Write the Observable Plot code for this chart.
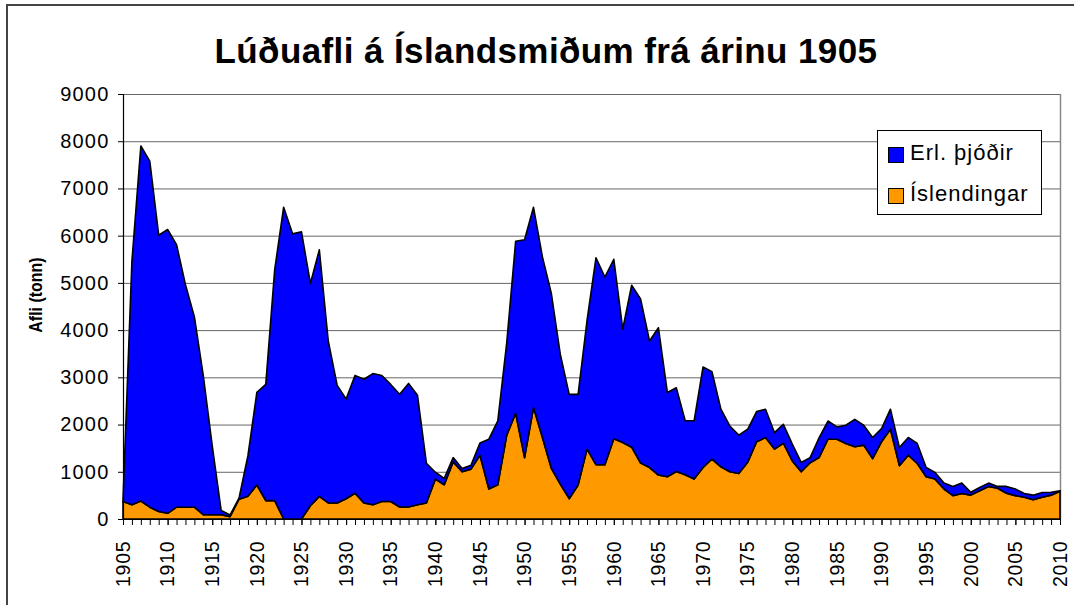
<!DOCTYPE html>
<html>
<head>
<meta charset="utf-8">
<script src="https://cdn.jsdelivr.net/npm/d3@7"></script>
<script src="https://cdn.jsdelivr.net/npm/@observablehq/plot@0.6"></script>
<style>
  body { margin: 0; background: #fff; font-family: "Liberation Sans", Arial, sans-serif; }
  #wrap { position: relative; width: 1074px; height: 605px; overflow: hidden; background: #fff; }
  #frame { position: absolute; left: 6px; top: 4px; width: 1200px; height: 800px; border: 2px solid #444; box-sizing: border-box; }
  #title { position: absolute; left: 0; top: 33px; width: 1092px; text-align: center; font-weight: bold; font-size: 35px; line-height: 35px; letter-spacing: 0.4px; color: #000; }
  #ylab { position: absolute; left: 35px; top: 295px; transform: translate(-50%, -50%) rotate(-90deg) scaleX(0.84); font-weight: bold; font-size: 19px; line-height: 19px; white-space: nowrap; color: #000; }
  #chart { position: absolute; left: 0; top: 80px; }
  #chart svg g[aria-label="y-axis tick label"] text { letter-spacing: 1.2px; }
  #chart svg g[aria-label="x-axis tick label"] text { letter-spacing: 0.8px; }
  #legend { position: absolute; left: 877px; top: 130px; width: 165px; height: 85px; border: 1px solid #000; background: #fff; box-sizing: border-box; }
  .sw { position: absolute; left: 10px; width: 14px; height: 14px; border: 1px solid #000; }
  .lt { position: absolute; left: 32px; font-size: 22px; letter-spacing: 1px; line-height: 22px; color: #000; white-space: nowrap; }
</style>
</head>
<body>
<div id="wrap">
  <div id="frame"></div>
  <div id="title">Lúðuafli á Íslandsmiðum frá árinu 1905</div>
  <div id="chart"></div>
  <div id="ylab"></div>
  <div id="legend"></div>
</div>
<script>
// ---- data ----
const years = [1905,1906,1907,1908,1909,1910,1911,1912,1913,1914,1915,1916,1917,1918,1919,1920,
1921,1922,1923,1924,1925,1926,1927,1928,1929,1930,1931,1932,1933,1934,1935,1936,1937,1938,1939,1940,
1941,1942,1943,1944,1945,1946,1947,1948,1949,1950,1951,1952,1953,1954,1955,1956,1957,1958,1959,1960,
1961,1962,1963,1964,1965,1966,1967,1968,1969,1970,1971,1972,1973,1974,1975,1976,1977,1978,1979,1980,
1981,1982,1983,1984,1985,1986,1987,1988,1989,1990,1991,1992,1993,1994,1995,1996,1997,1998,1999,2000,
2001,2002,2003,2004,2005,2006,2007,2008,2009,2010];

// Íslendingar (tonn)
const islendingar = [370,300,380,250,160,120,250,250,250,90,90,90,50,420,480,720,
390,390,0,0,0,280,480,340,340,430,545,340,300,370,370,255,255,300,340,845,
725,1210,1000,1056,1350,635,725,1775,2240,1300,2360,1725,1070,740,430,720,1480,1150,1150,1700,
1620,1520,1185,1090,930,895,1005,935,845,1090,1270,1105,1000,965,1200,1635,1725,1480,1605,1230,
1000,1190,1300,1690,1690,1600,1530,1565,1280,1635,1900,1130,1350,1175,895,845,635,495,540,505,
600,690,650,545,495,460,410,460,505,585];

// Erlendar þjóðir (tonn)
const erlendir = [30,5160,7520,7330,5850,6010,5560,4710,4030,2940,1460,90,35,20,860,1960,
2460,4890,6600,6040,6080,4710,5220,3430,2490,2110,2495,2620,2780,2670,2480,2385,2615,2320,840,145,
135,90,70,84,260,1055,1355,1955,3640,4615,4240,3825,3705,2750,2210,1920,2720,4380,3975,3800,
2400,3430,3475,2680,3120,1785,1775,1145,1235,2130,1850,1220,970,810,700,640,600,350,400,355,
200,110,420,385,260,385,580,420,445,280,425,385,375,425,195,140,125,195,220,60,
70,70,40,145,140,80,95,100,60,15];

const seriesNames = ["Íslendingar", "Erl. þjóðir"];
const seriesColors = ["#ff9900", "#0000ff"];
const yTicks = [0,1000,2000,3000,4000,5000,6000,7000,8000,9000];
const xLabelYears = [1905,1910,1915,1920,1925,1930,1935,1940,1945,1950,1955,1960,1965,1970,1975,1980,1985,1990,1995,2000,2005,2010];
const yLabel = "Afli (tonn)";

// long table built from the arrays (Íslendingar first -> stacked at bottom)
const rows = [];
years.forEach((yr, i) => rows.push({year: yr, series: seriesNames[0], value: islendingar[i]}));
years.forEach((yr, i) => rows.push({year: yr, series: seriesNames[1], value: erlendir[i]}));

const chart = Plot.plot({
  width: 1074,
  height: 525,
  marginLeft: 123,
  marginRight: 14,
  marginTop: 14,
  marginBottom: 86,
  style: { fontFamily: '"Liberation Sans", Arial, sans-serif', color: "#000", background: "transparent", overflow: "visible" },
  x: { type: "linear", domain: [years[0], years[years.length - 1]] },
  y: { domain: [0, 9000] },
  color: { domain: seriesNames, range: seriesColors },
  marks: [
    Plot.gridY(yTicks, { stroke: "#666", strokeOpacity: 1, strokeWidth: 1 }),
    Plot.ruleX([years[years.length - 1]], { stroke: "#888", strokeWidth: 1.5 }),
    Plot.areaY(rows, {
      x: "year", y: "value", fill: "series", z: "series",
      order: seriesNames,
      stroke: "#000", strokeWidth: 1.6, strokeLinejoin: "round"
    }),
    Plot.ruleX([years[0]], { stroke: "#000", strokeWidth: 1.2 }),
    Plot.ruleY([0], { stroke: "#000", strokeWidth: 1.2 }),
    Plot.axisY({ ticks: yTicks, tickSize: 5, tickPadding: 9, fontSize: 20, tickFormat: d => String(d), label: null }),
    Plot.axisX({ ticks: years, tickSize: 6, tickFormat: () => "", label: null }),
    Plot.axisX({ ticks: xLabelYears, tickSize: 6, tickPadding: 15, tickRotate: -90, fontSize: 19.5, tickFormat: d => String(d), label: null })
  ]
});
document.getElementById("chart").appendChild(chart);
document.getElementById("ylab").textContent = yLabel;

// legend (HTML, drawn from the same series arrays; Erl. þjóðir listed first)
const legend = document.getElementById("legend");
const legendOrder = [1, 0];
legendOrder.forEach((si, k) => {
  const sw = document.createElement("div");
  sw.className = "sw";
  sw.style.top = (16 + k * 41) + "px";
  sw.style.background = seriesColors[si];
  legend.appendChild(sw);
  const t = document.createElement("div");
  t.className = "lt";
  t.style.top = (11 + k * 41) + "px";
  t.textContent = seriesNames[si];
  legend.appendChild(t);
});
</script>
</body>
</html>
